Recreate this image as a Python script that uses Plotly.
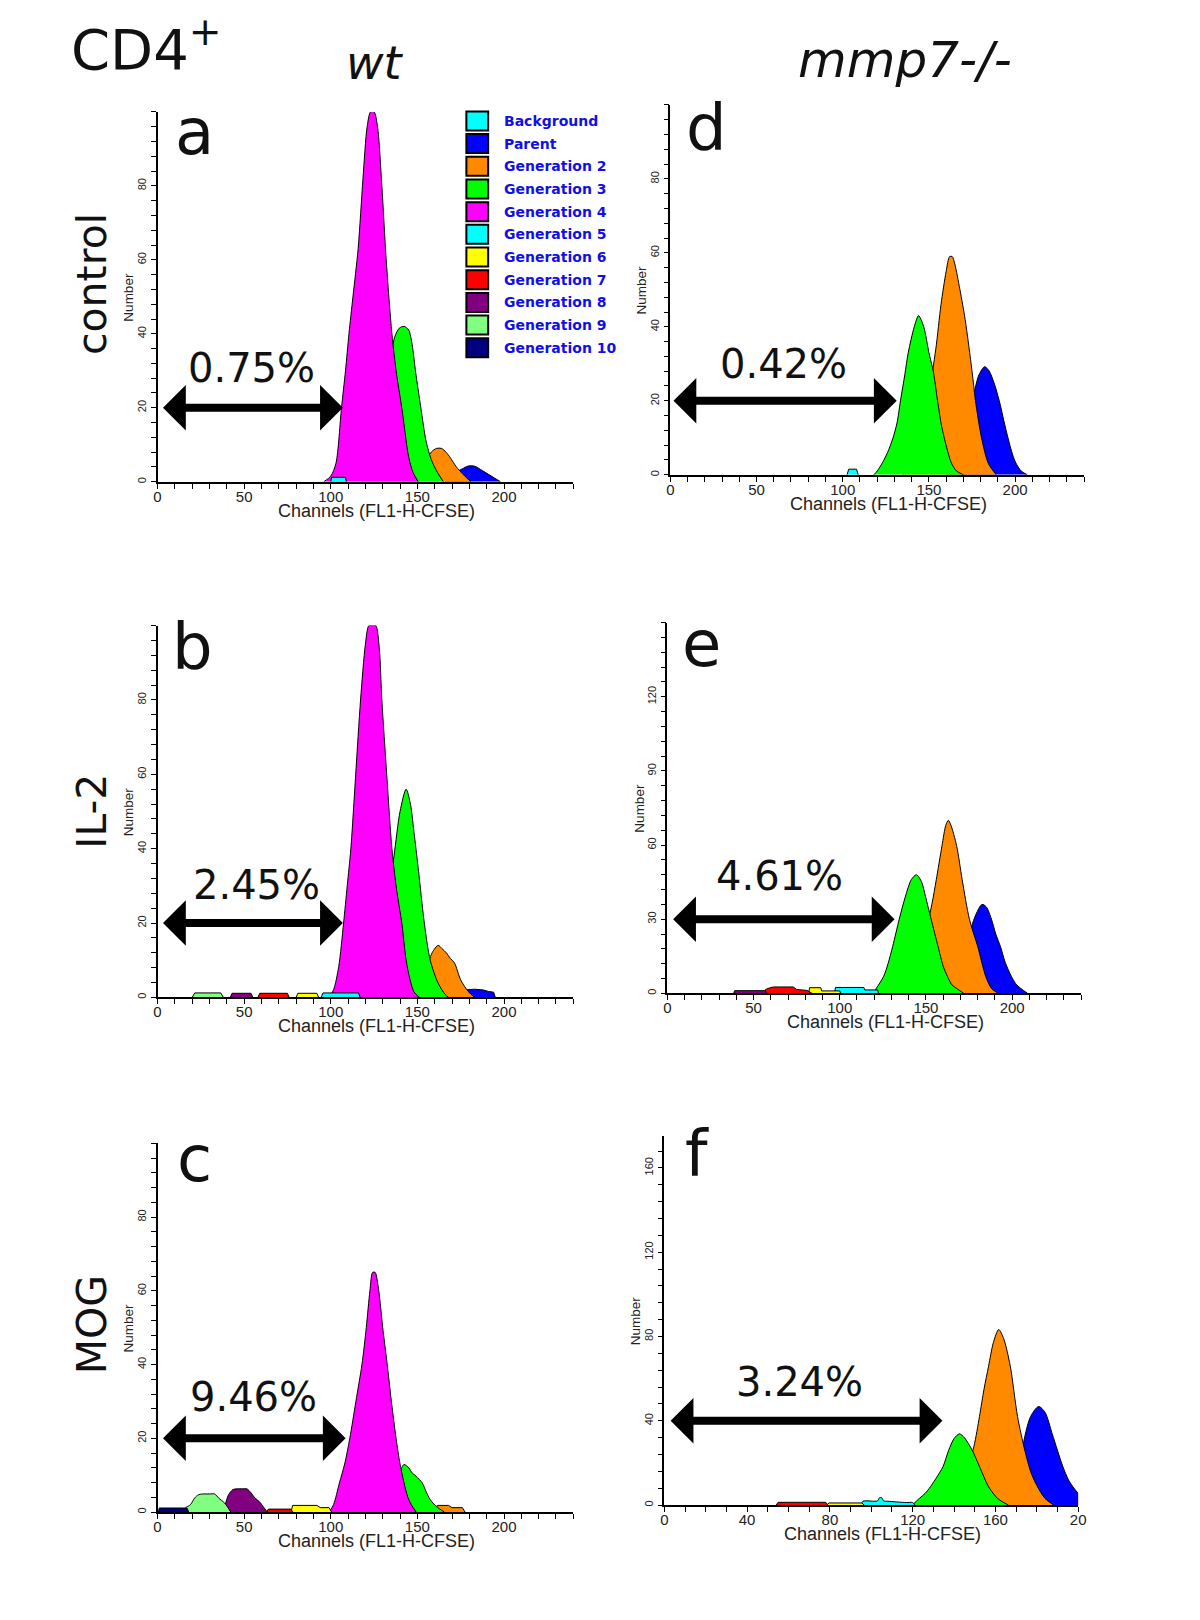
import plotly.graph_objects as go

# page is 1200x1620; the html body has an 8px margin, so the figure is offset by 8px
PAGE_OFF = 8
W, H = 1192, 1604

# ---------------- data ----------------
GEN_NAMES = ["Background", "Parent", "Generation 2", "Generation 3", "Generation 4",
             "Generation 5", "Generation 6", "Generation 7", "Generation 8",
             "Generation 9", "Generation 10"]
GEN_COLORS = ["#00FFFF", "#0000FF", "#FF8A00", "#00FF00", "#FF00FF",
              "#00FFFF", "#FFFF00", "#FF0000", "#800080", "#80FF80", "#000080"]

PANEL_LETTERS = ["a", "b", "c", "d", "e", "f"]
ROW_LABELS = ["control", "IL-2", "MOG"]
COL_LABELS = ["wt", "mmp7-/-"]
X_TITLE = "Channels (FL1-H-CFSE)"
Y_TITLE = "Number"

PERCENT_TEXT = ["0.75%", "2.45%", "9.46%", "0.42%", "4.61%", "3.24%"]
PERCENT_X = [54.3, 56.9, 55.2, 65.4, 65.0, 65.4]
PERCENT_Y = [30.7, 30.3, 31.1, 30.0, 47.3, 58.3]
ARROW_X0 = [2.3, 2.3, 2.3, 1.0, 2.5, 2.3]
ARROW_X1 = [107, 107, 108.6, 131.3, 131.8, 134.4]
ARROW_Y = [20, 20, 20, 20, 30, 40]

X_MAX = [240, 240, 240, 240, 240, 200]
Y_MAX = [100, 100, 100, 100, 150, 175]
X_TICKVALS = [[0, 50, 100, 150, 200]] * 5 + [[0, 40, 80, 120, 160, 200]]
X_TICKTEXT = [["0", "50", "100", "150", "200"]] * 5 + [["0", "40", "80", "120", "160", "20"]]
Y_TICKVALS = [[0, 20, 40, 60, 80]] * 4 + [[0, 30, 60, 90, 120], [0, 40, 80, 120, 160]]
Y_MINOR = [4, 4, 4, 4, 6, 8]

# peaks: (generation index, channel values, counts)
PEAKS_A = [
    (1, [166, 172, 176, 179, 183, 187.5, 191, 194.5, 198],
        [0, 2.5, 3.5, 4.2, 4.2, 3, 2, 1, 0]),
    (2, [146, 151, 155, 158, 161, 164, 166.5, 169, 172.5, 176, 178.5, 181],
        [0, 2.5, 5.5, 8, 9, 9, 8, 6.5, 4, 2.2, 1, 0]),
    (3, [118, 124, 128, 131, 134, 136.5, 139.5, 142.3, 145, 147, 149, 152, 155, 158, 161, 165],
        [0, 4, 11, 20, 30, 38.5, 41.5, 42, 41, 37, 29.6, 20, 11, 6, 3, 0]),
    (4, [96, 100, 103, 106.2, 108.5, 110.5, 112.8, 115.8, 118.6, 121, 123, 125, 127, 129.5, 132, 135.3, 138, 141, 145, 147.5, 150.5],
        [0, 1.5, 5, 20, 30, 40, 50, 63, 82, 96, 100, 100, 96, 80, 60, 40, 29, 20, 6.6, 2.5, 0]),
    (5, [100, 100.5, 108.5, 109], [0, 1.2, 1.2, 0]),
]
PEAKS_B = [
    (1, [176, 177, 183, 188, 191, 194, 195], [0, 2, 2.2, 2, 1.6, 1.4, 0]),
    (2, [146, 151, 155, 158.5, 162, 164, 166.7, 169, 171.4, 175, 179.5, 183],
        [0, 3, 7, 12, 14, 13.2, 12, 10.5, 9.3, 4.7, 1.5, 0]),
    (3, [120, 123, 127, 130, 133, 136.5, 140, 143.5, 146, 148, 150.5, 154, 157.4, 162, 166, 168],
        [0, 2, 7, 15, 26, 38, 50, 56, 52, 44.6, 34.7, 20, 10, 3.8, 0.8, 0]),
    (4, [99, 101.6, 104.6, 107.4, 109.5, 111.6, 114.4, 117.2, 120, 122, 124, 126, 128, 129.5, 132.3, 135.3, 138, 141, 143.5, 145.8, 148, 151],
        [0, 2, 8.3, 20, 30, 40, 60, 80, 95, 100, 100, 100, 94, 80, 60, 40, 29, 20, 10, 4.7, 1.5, 0]),
    (5, [94.5, 95.5, 116, 117], [0, 1.2, 1.2, 0]),
    (6, [80, 81, 92, 93], [0, 1.1, 1.1, 0]),
    (7, [58, 59, 75, 76], [0, 1.1, 1.1, 0]),
    (8, [42, 43, 54, 55], [0, 1.1, 1.1, 0]),
    (9, [20, 21.5, 36.5, 38], [0, 1.2, 1.2, 0]),
]
PEAKS_C = [
    (2, [160, 161.5, 168, 170, 176, 177.5], [0, 1.8, 1.8, 1.2, 1.2, 0]),
    (3, [128, 133, 137, 140, 142.3, 145, 147, 149.3, 152.8, 155, 157.4, 161, 165.6],
        [0, 3, 7, 11, 12.9, 12, 10.6, 9.7, 7.9, 5.6, 3.4, 1.5, 0]),
    (4, [99, 101.6, 105, 108, 111, 114.5, 118, 120.5, 122.6, 124.2, 125.6, 127.7, 130, 132.6, 135, 137.7, 140, 142.3, 144.5, 146.5, 149.3],
        [0, 2, 7.9, 13, 20, 30, 40, 50, 60, 65, 65, 60, 50, 40, 30, 20, 13, 7.9, 4, 2, 0]),
    (6, [77, 78, 92, 94, 99, 100.5], [0, 1.8, 1.8, 1.2, 1.2, 0]),
    (7, [63, 64, 77, 78], [0, 0.8, 0.8, 0]),
    (8, [37.5, 39, 41, 43.5, 46, 49, 51.6, 54, 56.3, 58.6, 61, 63.3],
        [0, 2, 4.7, 6.1, 6.3, 6.3, 6.3, 5.2, 3.8, 2.9, 1.5, 0]),
    (9, [14.4, 16, 19, 21.4, 23.7, 26, 30, 33, 35.3, 38.8, 42.3],
        [0, 1.1, 2, 3.8, 4.7, 4.9, 4.9, 4.9, 3.8, 2.4, 0]),
    (10, [0.5, 1, 17, 18], [0, 1.1, 1.1, 0]),
]
PEAKS_D = [
    (1, [160, 166, 170, 173, 176, 179, 182.3, 185, 188, 190.8, 193.5, 196, 198.5, 200.4, 203.5, 207],
        [0, 3, 8, 14, 21.6, 27, 29.2, 28, 24.5, 20, 14.5, 9.7, 5.5, 3.2, 1, 0]),
    (2, [135, 140, 145, 150, 154, 157, 160, 162, 163.5, 165, 168, 171, 175, 177, 180.5, 184.5, 189],
        [0, 3, 10, 22, 34, 46, 55, 59, 59, 57, 50, 42, 28, 20, 10, 3, 0]),
    (3, [118, 120, 123, 126, 129, 131.5, 133.5, 136, 138, 141.5, 144, 147, 150, 152.5, 155, 157, 159, 163, 166, 170],
        [0, 1, 3.2, 6, 9.7, 14, 20, 27, 33, 40, 43, 40, 33, 28, 20, 14, 9.7, 3.2, 1, 0]),
    (5, [102.5, 103.5, 108, 109], [0, 1.5, 1.5, 0]),
]
PEAKS_E = [
    (1, [160, 168, 172, 176.3, 179, 182.5, 185, 188, 190.5, 193.2, 196, 199.6, 202, 205, 209],
        [0, 6, 13, 26.5, 32, 36, 35, 30, 24, 19, 12.5, 6.8, 4, 2, 0]),
    (2, [136, 142, 147, 151, 153.6, 156, 159.3, 161.5, 163, 164.5, 167.8, 171, 175.2, 180, 184.7, 188, 192],
        [0, 4, 13, 28, 36.6, 46, 59.7, 68, 70, 68, 59.7, 46, 30, 19, 6.8, 2, 0]),
    (3, [119.5, 121.2, 125.4, 128, 130.7, 134.5, 138, 141.5, 144.5, 147.5, 149.8, 153, 157, 160, 162.5, 165, 167.8, 172],
        [0, 2, 6.8, 12, 19, 30, 39, 46, 48, 45, 39, 30, 19, 11, 6.8, 3.5, 2, 0]),
    (5, [97, 97.5, 114, 114.5, 122, 122.5], [0, 2.4, 2.4, 1.4, 1.4, 0]),
    (6, [82, 82.5, 89, 89.5, 100, 100.5], [0, 2.3, 2.3, 1, 1, 0]),
    (7, [56, 57, 60, 62, 73, 75, 81, 84], [0, 1.6, 2.4, 2.6, 2.6, 1.6, 1.2, 0]),
    (8, [38.5, 39, 57, 57.5], [0, 1.1, 1.1, 0]),
]
PEAKS_F = [
    (1, [160, 168, 172, 174.2, 177, 180.9, 184, 187.4, 190, 192.6, 195.3, 198, 200, 203, 206],
        [0, 8, 20, 32.5, 42, 46.8, 44, 34, 26, 18.3, 12, 8, 5.5, 2, 0]),
    (2, [133, 140, 145, 149.6, 152.3, 154.5, 156.7, 159, 161.6, 164, 167.2, 170.7, 174.2, 177, 179.5, 183.9, 188.2],
        [0, 5, 13, 27.8, 42, 55, 65.9, 77, 83.3, 79, 65.9, 42, 26, 16, 10.3, 3.2, 0]),
    (3, [119.8, 123.3, 126, 128.6, 131.5, 134.7, 137.4, 140, 142.6, 145, 148.8, 152.3, 156.7, 161, 163.5, 166.3],
        [0, 3.2, 5.5, 8.7, 13, 18.3, 26, 31.5, 33.8, 32, 26, 18.3, 8.7, 3.2, 1.5, 0]),
    (5, [95, 96, 103, 104, 105, 106, 108, 117, 120, 121], [0, 1.8, 2, 3.5, 3.5, 2, 1.8, 1.2, 1.2, 0]),
    (6, [78.6, 79.5, 95.5, 96.5], [0, 1, 1, 0]),
    (7, [54, 55, 78, 79], [0, 1.3, 1.3, 0]),
]
PANEL_PEAKS = [PEAKS_A, PEAKS_B, PEAKS_C, PEAKS_D, PEAKS_E, PEAKS_F]

# ---------------- layout geometry (page pixels) ----------------
PANEL_BOX = [(155, 575, 112, 482), (155, 575, 626, 998), (155, 575, 1144, 1513),
             (673, 1091, 105, 475), (670, 1088, 623, 994), (667, 1085, 1137, 1506)]
LETTER_POS = [(192, 155), (190, 670), (192, 1183), (710, 151), (705, 667), (700, 1178)]
ROW_POS = [(89, 284), (89, 812), (89, 1326)]
COL_POS = [(375, 80), (910, 79)]
COL_SIZE = [46, 50]


def px(x):
    return (x - PAGE_OFF) / W


def py(y):
    return 1 - (y - PAGE_OFF) / H


BIG_FONT = "DejaVu Sans, Verdana, sans-serif"
AX_FONT = "Liberation Sans, Arial, sans-serif"
INK = "#111111"

fig = go.Figure()
annotations = []
shapes = []
axes = {}

for i in range(6):
    sfx = "" if i == 0 else str(i + 1)
    xr, yr = "x" + sfx, "y" + sfx
    L, R, T, B = PANEL_BOX[i]
    for gen, xs, ys in sorted(PANEL_PEAKS[i], key=lambda p: p[0]):
        fig.add_trace(go.Scatter(
            x=xs, y=ys, xaxis=xr, yaxis=yr, mode="lines",
            line=dict(color="black", width=1,
                      shape="spline" if len(xs) >= 9 else "linear", smoothing=0.8),
            fill="tozeroy", fillcolor=GEN_COLORS[gen], name=GEN_NAMES[gen],
            showlegend=False, hoverinfo="skip"))

    axes["xaxis" + sfx] = dict(
        domain=[px(L), px(R)], anchor=yr, range=[0, X_MAX[i]],
        showline=True, linecolor="black", linewidth=1.6,
        ticks="outside", ticklen=5, tickwidth=1.3, tickcolor="black",
        tickmode="array", tickvals=X_TICKVALS[i], ticktext=X_TICKTEXT[i],
        tickfont=dict(family=AX_FONT, size=15, color="#222"),
        minor=dict(tickmode="linear", tick0=0, dtick=10, ticks="outside",
                   ticklen=5, tickwidth=1.3, tickcolor="black", showgrid=False),
        showgrid=False, zeroline=False, fixedrange=True)
    axes["yaxis" + sfx] = dict(
        domain=[py(B), py(T)], anchor=xr, range=[0, Y_MAX[i]],
        showline=True, linecolor="black", linewidth=1.6,
        ticks="outside", ticklen=5, tickwidth=1.2, tickcolor="black",
        tickmode="array", tickvals=Y_TICKVALS[i], tickangle=-90,
        tickfont=dict(family=AX_FONT, size=11, color="#222"),
        minor=dict(tickmode="linear", tick0=0, dtick=Y_MINOR[i], ticks="outside",
                   ticklen=5, tickwidth=1.2, tickcolor="black", showgrid=False),
        showgrid=False, zeroline=False, fixedrange=True)

    # axis titles
    annotations.append(dict(xref="paper", yref="paper", x=px((L + R) / 2 + 11), y=py(B + 29),
                            text=X_TITLE, showarrow=False, xanchor="center", yanchor="middle",
                            font=dict(family=AX_FONT, size=18, color="#222")))
    annotations.append(dict(xref="paper", yref="paper", x=px(L - 29), y=py((T + B) / 2),
                            text=Y_TITLE, showarrow=False, textangle=-90,
                            xanchor="center", yanchor="middle",
                            font=dict(family=AX_FONT, size=13.5, color="#222")))
    # double arrow
    annotations.append(dict(xref=xr, yref=yr, axref=xr, ayref=yr,
                            x=ARROW_X1[i], y=ARROW_Y[i], ax=ARROW_X0[i], ay=ARROW_Y[i],
                            text="", showarrow=True, arrowside="end+start",
                            arrowhead=1, startarrowhead=1, arrowsize=0.95, startarrowsize=0.95,
                            arrowwidth=8, arrowcolor="black"))
    # percentage
    annotations.append(dict(xref=xr, yref=yr, x=PERCENT_X[i], y=PERCENT_Y[i],
                            text=PERCENT_TEXT[i], showarrow=False,
                            xanchor="center", yanchor="middle",
                            font=dict(family=BIG_FONT, size=40, color=INK)))
    # panel letter
    lx, lb = LETTER_POS[i]
    annotations.append(dict(xref="paper", yref="paper", x=px(lx), y=py(lb + 16),
                            text=PANEL_LETTERS[i], showarrow=False,
                            xanchor="center", yanchor="bottom",
                            font=dict(family=BIG_FONT, size=64, color=INK)))

# row labels
for k, lab in enumerate(ROW_LABELS):
    cx, cy = ROW_POS[k]
    annotations.append(dict(xref="paper", yref="paper", x=px(cx), y=py(cy), text=lab,
                            showarrow=False, textangle=-90, xanchor="center", yanchor="middle",
                            font=dict(family=BIG_FONT, size=41, color=INK)))
# column labels
for k, lab in enumerate(COL_LABELS):
    cx, cb = COL_POS[k]
    annotations.append(dict(xref="paper", yref="paper", x=px(cx), y=py(cb + 12),
                            text="<i>" + lab + "</i>", showarrow=False,
                            xanchor="center", yanchor="bottom",
                            font=dict(family=BIG_FONT, size=COL_SIZE[k], color=INK)))
# CD4+
annotations.append(dict(xref="paper", yref="paper", x=px(66), y=py(70 + 14),
                        text="CD4<sup>+</sup>", showarrow=False,
                        xanchor="left", yanchor="bottom",
                        font=dict(family=BIG_FONT, size=56, color=INK)))

# legend (panel a)
LEG_X0, LEG_X1, LEG_Y0, LEG_DY, LEG_TX = 467, 489, 121, 22.7, 503
for k, name in enumerate(GEN_NAMES):
    cy = LEG_Y0 + k * LEG_DY
    shapes.append(dict(type="rect", xref="paper", yref="paper",
                       x0=px(LEG_X0), x1=px(LEG_X1), y0=py(cy + 9.5), y1=py(cy - 9.5),
                       fillcolor=GEN_COLORS[k], line=dict(color="black", width=2)))
    annotations.append(dict(xref="paper", yref="paper", x=px(LEG_TX), y=py(cy),
                            text="<b>" + name + "</b>", showarrow=False,
                            xanchor="left", yanchor="middle",
                            font=dict(family=BIG_FONT, size=14, color="#1010E6")))

fig.update_layout(
    width=W, height=H, margin=dict(l=0, r=0, t=0, b=0),
    paper_bgcolor="white", plot_bgcolor="white", showlegend=False,
    annotations=annotations, shapes=shapes, **axes)

# pull the x tick labels a little closer to the axis line, as in the original
try:
    fig.update_xaxes(ticklabelstandoff=-5)
except Exception:
    pass

fig.write_html("out.html")
